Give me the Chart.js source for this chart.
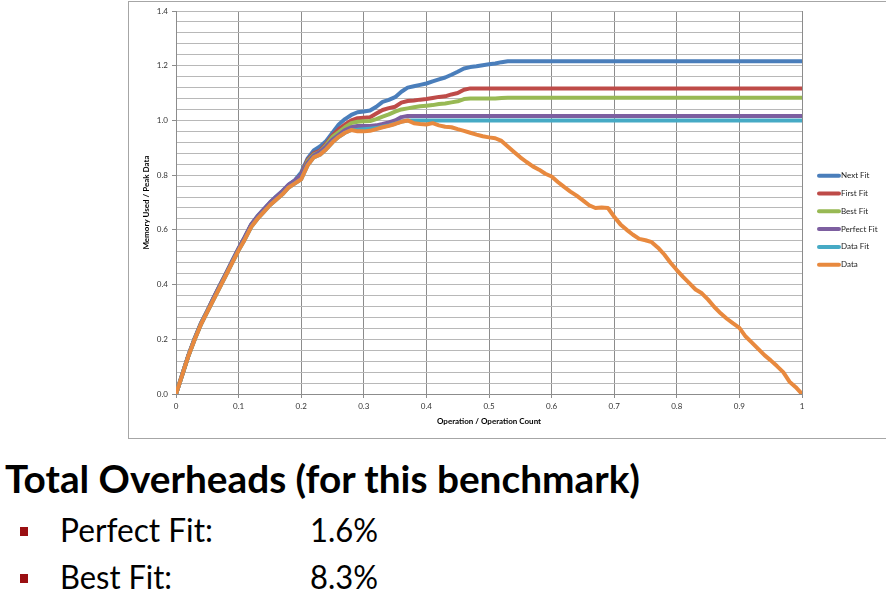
<!DOCTYPE html>
<html><head><meta charset="utf-8">
<script src="https://cdn.jsdelivr.net/npm/chart.js@4.4.1/dist/chart.umd.min.js"></script>
<style>
html,body{margin:0;padding:0;background:#fff;}
body{width:886px;height:606px;position:relative;overflow:hidden;font-family:Lato,"Open Sans",sans-serif;}
#wrap{position:absolute;left:128px;top:0;width:758px;height:440px;}
#frame{position:absolute;left:128px;top:1px;width:770px;height:438px;border:1px solid #a6a6a6;box-sizing:border-box;pointer-events:none;}
.t{position:absolute;white-space:nowrap;line-height:1;color:#000;transform-origin:0 0;}
.b{position:absolute;width:8px;height:9px;background:#9a0f12;}
</style></head><body>
<div id="wrap"><canvas id="c" width="758" height="440"></canvas></div>
<div id="frame"></div>
<div class="t" style="left:5px;top:459px;font-size:38px;font-weight:700;" data-w="635">Total Overheads (for this benchmark)</div>
<div class="b" style="left:20px;top:527px;"></div>
<div class="t" style="left:60px;top:513px;font-size:33px;" data-w="153">Perfect Fit:</div>
<div class="t" style="left:310px;top:513px;font-size:33px;" data-w="68">1.6%</div>
<div class="b" style="left:20px;top:574px;"></div>
<div class="t" style="left:60px;top:560px;font-size:33px;" data-w="112">Best Fit:</div>
<div class="t" style="left:310px;top:560px;font-size:33px;" data-w="68">8.3%</div>
<script>
const ops = [0,0.01,0.02,0.03,0.04,0.05,0.06,0.07,0.08,0.09,
 0.1,0.11,0.12,0.13,0.14,0.15,0.16,0.17,0.18,0.19,
 0.2,0.21,0.22,0.23,0.24,0.25,0.26,0.27,0.28,0.29,
 0.3,0.31,0.32,0.33,0.34,0.35,0.36,0.37,0.38,0.39,
 0.4,0.41,0.42,0.43,0.44,0.45,0.46,0.47,0.48,0.49,
 0.5,0.51,0.52,0.53,0.54,0.55,0.56,0.57,0.58,0.59,
 0.6,0.61,0.62,0.63,0.64,0.65,0.66,0.67,0.68,0.69,
 0.7,0.71,0.72,0.73,0.74,0.75,0.76,0.77,0.78,0.79,
 0.8,0.81,0.82,0.83,0.84,0.85,0.86,0.87,0.88,0.89,
 0.9,0.91,0.92,0.93,0.94,0.95,0.96,0.97,0.98,0.99,
 1];
const nextFit = [0,0.072,0.143,0.205,0.26,0.305,0.352,0.398,0.442,0.488,
 0.533,0.575,0.62,0.65,0.675,0.7,0.722,0.742,0.765,0.782,
 0.81,0.86,0.89,0.905,0.925,0.955,0.985,1.005,1.02,1.03,
 1.033,1.036,1.05,1.068,1.075,1.085,1.105,1.12,1.125,1.13,
 1.135,1.143,1.15,1.157,1.167,1.178,1.19,1.195,1.198,1.202,
 1.205,1.208,1.213,1.216,1.216,1.216,1.216,1.216,1.216,1.216,
 1.216,1.216,1.216,1.216,1.216,1.216,1.216,1.216,1.216,1.216,
 1.216,1.216,1.216,1.216,1.216,1.216,1.216,1.216,1.216,1.216,
 1.216,1.216,1.216,1.216,1.216,1.216,1.216,1.216,1.216,1.216,
 1.216,1.216,1.216,1.216,1.216,1.216,1.216,1.216,1.216,1.216,
 1.216];
const firstFit = [0,0.071,0.142,0.203,0.258,0.303,0.35,0.395,0.44,0.485,
 0.53,0.572,0.617,0.647,0.672,0.697,0.718,0.738,0.762,0.778,
 0.8,0.855,0.88,0.89,0.915,0.945,0.968,0.985,1.0,1.008,
 1.01,1.012,1.025,1.038,1.045,1.05,1.065,1.071,1.073,1.076,
 1.078,1.082,1.086,1.088,1.095,1.1,1.112,1.117,1.117,1.117,
 1.117,1.117,1.117,1.117,1.117,1.117,1.117,1.117,1.117,1.117,
 1.117,1.117,1.117,1.117,1.117,1.117,1.117,1.117,1.117,1.117,
 1.117,1.117,1.117,1.117,1.117,1.117,1.117,1.117,1.117,1.117,
 1.117,1.117,1.117,1.117,1.117,1.117,1.117,1.117,1.117,1.117,
 1.117,1.117,1.117,1.117,1.117,1.117,1.117,1.117,1.117,1.117,
 1.117];
const bestFit = [0,0.07,0.141,0.202,0.257,0.302,0.348,0.393,0.438,0.483,
 0.528,0.569,0.614,0.644,0.669,0.694,0.715,0.735,0.759,0.775,
 0.795,0.85,0.875,0.885,0.91,0.94,0.957,0.975,0.99,0.995,
 0.997,0.998,1.005,1.014,1.022,1.032,1.04,1.044,1.048,1.052,
 1.054,1.056,1.06,1.062,1.066,1.07,1.078,1.08,1.08,1.08,
 1.08,1.08,1.082,1.083,1.083,1.083,1.083,1.083,1.083,1.083,
 1.083,1.083,1.083,1.083,1.083,1.083,1.083,1.083,1.083,1.083,
 1.083,1.083,1.083,1.083,1.083,1.083,1.083,1.083,1.083,1.083,
 1.083,1.083,1.083,1.083,1.083,1.083,1.083,1.083,1.083,1.083,
 1.083,1.083,1.083,1.083,1.083,1.083,1.083,1.083,1.083,1.083,
 1.083];
const perfectFit = [0,0.071,0.142,0.203,0.258,0.303,0.35,0.395,0.44,0.486,
 0.531,0.573,0.618,0.648,0.674,0.699,0.72,0.741,0.765,0.78,
 0.8,0.845,0.872,0.885,0.905,0.93,0.947,0.965,0.975,0.98,
 0.98,0.98,0.982,0.987,0.993,1.0,1.012,1.016,1.016,1.016,
 1.016,1.016,1.016,1.016,1.016,1.016,1.016,1.016,1.016,1.016,
 1.016,1.016,1.016,1.016,1.016,1.016,1.016,1.016,1.016,1.016,
 1.016,1.016,1.016,1.016,1.016,1.016,1.016,1.016,1.016,1.016,
 1.016,1.016,1.016,1.016,1.016,1.016,1.016,1.016,1.016,1.016,
 1.016,1.016,1.016,1.016,1.016,1.016,1.016,1.016,1.016,1.016,
 1.016,1.016,1.016,1.016,1.016,1.016,1.016,1.016,1.016,1.016,
 1.016];
const dataFit = [0,0.07,0.14,0.2,0.255,0.3,0.345,0.39,0.435,0.48,
 0.525,0.565,0.61,0.64,0.665,0.69,0.71,0.73,0.755,0.77,
 0.785,0.835,0.865,0.875,0.895,0.92,0.94,0.955,0.965,0.966,
 0.968,0.97,0.972,0.977,0.982,0.988,0.996,1,1,1,
 1,1,1,1,1,1,1,1,1,1,
 1,1,1,1,1,1,1,1,1,1,
 1,1,1,1,1,1,1,1,1,1,
 1,1,1,1,1,1,1,1,1,1,
 1,1,1,1,1,1,1,1,1,1,
 1,1,1,1,1,1,1,1,1,1,
 1];
const dataUsed = [0,0.07,0.14,0.2,0.255,0.3,0.345,0.39,0.435,0.48,
 0.525,0.565,0.61,0.64,0.665,0.69,0.71,0.73,0.755,0.77,
 0.785,0.835,0.865,0.875,0.895,0.92,0.94,0.955,0.965,0.96,
 0.96,0.962,0.968,0.975,0.98,0.987,0.995,1.0,0.99,0.987,
 0.985,0.99,0.982,0.977,0.975,0.968,0.962,0.955,0.948,0.942,
 0.938,0.935,0.925,0.905,0.885,0.865,0.848,0.832,0.82,0.805,
 0.795,0.775,0.757,0.74,0.725,0.708,0.69,0.68,0.682,0.68,
 0.648,0.62,0.6,0.582,0.567,0.562,0.555,0.535,0.51,0.48,
 0.453,0.428,0.405,0.382,0.368,0.345,0.318,0.295,0.275,0.258,
 0.242,0.21,0.188,0.165,0.142,0.123,0.102,0.08,0.045,0.025,
 0];
const seriesNames = ['Next Fit','First Fit','Best Fit','Perfect Fit','Data Fit','Data'];
const seriesColors = ['#4A7EBB','#BE4B48','#98B954','#7D5FA0','#46AAC5','#E8893E'];
const seriesValues = [nextFit, firstFit, bestFit, perfectFit, dataFit, dataUsed];
const yTickStep = 0.04, yLabelStep = 0.2;

function pts(arr){ return arr.map((v,i)=>({x:ops[i], y:v})); }
function isMajor(v){ const r = v/yLabelStep; return Math.abs(r-Math.round(r))<1e-6; }

// Excel draws later series on top; Chart.js draws dataset 0 on top -> reverse
const datasets = seriesNames.map((n,i)=>({label:n, data:pts(seriesValues[i]), borderColor:seriesColors[i], backgroundColor:seriesColors[i]})).reverse();

const legendPlugin = {
  id:'xlLegend',
  afterDraw(chart){
    const c = chart.ctx; c.save();
    const y0 = 175.7, gap = 17.8;
    seriesNames.forEach((name,i)=>{
      const y = y0 + i*gap;
      c.strokeStyle = seriesColors[i]; c.lineWidth = 4; c.lineCap='round';
      c.beginPath(); c.moveTo(691,y); c.lineTo(711,y); c.stroke();
      c.fillStyle = '#222'; c.font = '8px Lato, "Open Sans", sans-serif'; c.textBaseline='middle'; c.textAlign='left';
      c.fillText(name, 713, y);
    });
    c.restore();
  }
};

new Chart(document.getElementById('c'), {
  type:'line',
  data:{datasets},
  plugins:[legendPlugin],
  options:{
    responsive:false, animation:false,
    layout:{padding:{top:11,right:84,left:0,bottom:0}},
    plugins:{legend:{display:false}, tooltip:{enabled:false}},
    elements:{point:{radius:0}, line:{borderWidth:4, tension:0, borderCapStyle:'round', borderJoinStyle:'round'}},
    font:{family:'Lato, "Open Sans", sans-serif'},
    scales:{
      x:{type:'linear', min:0, max:1,
        afterFit:s=>{s.height=46;},
        ticks:{stepSize:0.1, padding:4, color:'#333', font:{size:8, family:'Lato, "Open Sans", sans-serif'}, maxRotation:0, autoSkip:false, callback:v=>String(Math.round(v*10)/10)},
        grid:{color:'#8c8c8c', lineWidth:1, tickLength:4, tickColor:'#8c8c8c'},
        border:{color:'#8c8c8c'},
        title:{display:true, text:'Operation / Operation Count', font:{size:8, weight:'bold', family:'Lato, "Open Sans", sans-serif'}, color:'#000', padding:{top:0,bottom:14}}
      },
      y:{min:0, max:1.4,
        afterFit:s=>{s.width=48;},
        ticks:{stepSize:yTickStep, autoSkip:false, padding:4, color:'#333', font:{size:8, family:'Lato, "Open Sans", sans-serif'}, callback:v=>isMajor(v)?v.toFixed(1):''},
        grid:{color:'#b8b8b8', lineWidth:1, tickLength:4, tickColor:c=>(c.tick && isMajor(c.tick.value))?'#8c8c8c':'rgba(0,0,0,0)'},
        border:{color:'#8c8c8c'},
        title:{display:true, text:'Memory Used / Peak Data', font:{size:8, weight:'bold', family:'Lato, "Open Sans", sans-serif'}, color:'#000', padding:{top:14,bottom:0}}
      }
    }
  }
});

function fitTexts(){
  document.querySelectorAll('.t').forEach(el=>{
    el.style.transform='none';
    const w = +el.dataset.w; const r = el.getBoundingClientRect().width;
    if (r>0) el.style.transform = 'scaleX(' + (w/r) + ')';
  });
}
fitTexts();
if (document.fonts && document.fonts.ready) document.fonts.ready.then(fitTexts);
</script>
</body></html>
